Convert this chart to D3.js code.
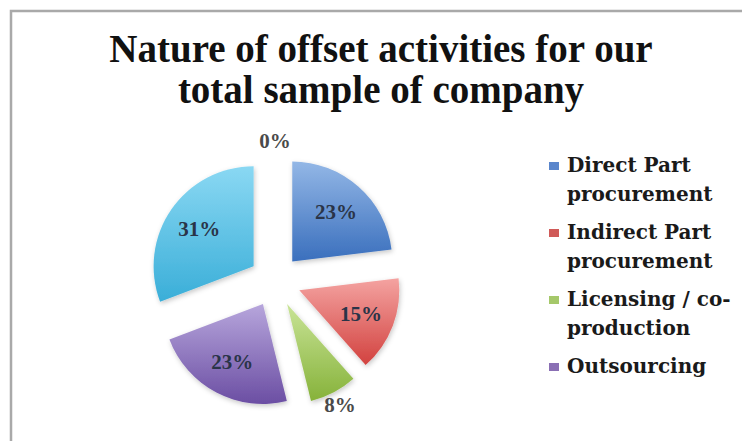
<!DOCTYPE html>
<html>
<head>
<meta charset="utf-8">
<script src="https://cdn.jsdelivr.net/npm/d3@7"></script>
<style>
  body { margin: 0; background: #fff; }
  svg { display: block; }
</style>
</head>
<body>
<svg id="chart" width="742" height="441"></svg>
<script>
// data (counts out of 13 -> 23/15/8/23/31/0 %)
const categories = [
  'Direct Part procurement',
  'Indirect Part procurement',
  'Licensing / co-production',
  'Outsourcing',
  'Other',
  'None'
];
const counts = [3, 2, 1, 3, 4, 0];
const legendLines = [
  ['Direct Part', 'procurement'],
  ['Indirect Part', 'procurement'],
  ['Licensing / co-', 'production'],
  ['Outsourcing']
];
const titleLines = ['Nature of offset activities for our', 'total sample of company'];

const config = {
  cx: 275,
  cy: 281,
  radius: 100,
  explode: 26,
  labelIn: 92,
  labelOut: 140,
  font: '"Liberation Serif", "Times New Roman", serif',
  legendFont: '"DejaVu Serif", serif'
};

// light top / base bottom, like the office gradient style
const colors = [
  ['#93b7e6', '#3a6fbd'],
  ['#f4a3a1', '#d2423f'],
  ['#c9e497', '#86b23a'],
  ['#b7a6dc', '#6b4ea3'],
  ['#8ad8f3', '#3aaed8'],
  ['#fbc08a', '#e8822e']
];
const keyColors = ['#5a86cc', '#d05a58', '#a5c86a', '#8a6fb4', '#4cb4d6', '#f79646'];

const svg = d3.select('#chart');
const defs = svg.append('defs');

colors.forEach((c, i) => {
  const g = defs.append('linearGradient')
    .attr('id', `grad_${i}`)
    .attr('x1', 0).attr('y1', 0)
    .attr('x2', 0).attr('y2', 1);
  g.append('stop').attr('offset', '0%').attr('stop-color', c[0]);
  g.append('stop').attr('offset', '100%').attr('stop-color', c[1]);
});

const shadow = defs.append('filter')
  .attr('id', 'shadow')
  .attr('x', '-20%').attr('y', '-20%')
  .attr('width', '140%').attr('height', '140%');
shadow.append('feDropShadow')
  .attr('dx', 1).attr('dy', 2)
  .attr('stdDeviation', 2.5)
  .attr('flood-color', '#000')
  .attr('flood-opacity', 0.22);

// chart frame, runs off the right / bottom edge
svg.append('rect')
  .attr('x', 11)
  .attr('y', 11)
  .attr('width', 760)
  .attr('height', 460)
  .attr('fill', '#fff')
  .attr('stroke', '#a9a9a9')
  .attr('stroke-width', 2.5);

// title
svg.append('text')
  .attr('text-anchor', 'middle')
  .attr('font-family', config.font)
  .attr('font-weight', 'bold')
  .attr('font-size', 39)
  .attr('fill', '#111')
  .selectAll('tspan')
  .data(titleLines)
  .enter()
  .append('tspan')
  .attr('x', 381)
  .attr('y', (d, i) => 62 + i * 41)
  .text(d => d);

// pie
const total = d3.sum(counts);
const pie = d3.pie().sort(null).value(d => d)(counts);
const arc = d3.arc().innerRadius(0).outerRadius(config.radius);

const offset = (d, dist) => {
  const a = (d.startAngle + d.endAngle) / 2;
  return [Math.sin(a) * dist, -Math.cos(a) * dist];
};
const isSmall = d => d.value / total < 0.1;

const slices = svg.append('g')
  .attr('transform', `translate(${config.cx}, ${config.cy})`);

slices.selectAll('path')
  .data(pie)
  .enter()
  .append('path')
  .attr('transform', d => `translate(${offset(d, config.explode)})`)
  .attr('d', arc)
  .attr('fill', (d, i) => `url(#grad_${i})`)
  .attr('filter', 'url(#shadow)');

slices.selectAll('text')
  .data(pie)
  .enter()
  .append('text')
  .attr('transform', d => `translate(${offset(d, isSmall(d) ? config.labelOut : config.labelIn)})`)
  .attr('text-anchor', 'middle')
  .attr('dominant-baseline', 'central')
  .attr('font-family', config.font)
  .attr('font-weight', 'bold')
  .attr('font-size', 21)
  .attr('fill', d => isSmall(d) ? '#4a4a4a' : '#2a3448')
  .text(d => `${Math.round(d.value / total * 100)}%`);

// legend (only the entries that fit are shown)
const legend = svg.append('g')
  .attr('transform', 'translate(549, 0)');

let y = 172;
legendLines.forEach((lines, i) => {
  const item = legend.append('g');
  item.append('rect')
    .attr('x', 0)
    .attr('y', y - 10)
    .attr('width', 10)
    .attr('height', 8)
    .attr('fill', keyColors[i]);
  item.append('text')
    .attr('font-family', config.legendFont)
    .attr('font-weight', 'bold')
    .attr('font-size', 20)
    .attr('fill', '#1a1a1a')
    .selectAll('tspan')
    .data(lines)
    .enter()
    .append('tspan')
    .attr('x', 18)
    .attr('y', (d, k) => y + k * 29)
    .text(d => d);
  y += 67;
});
</script>
</body>
</html>
